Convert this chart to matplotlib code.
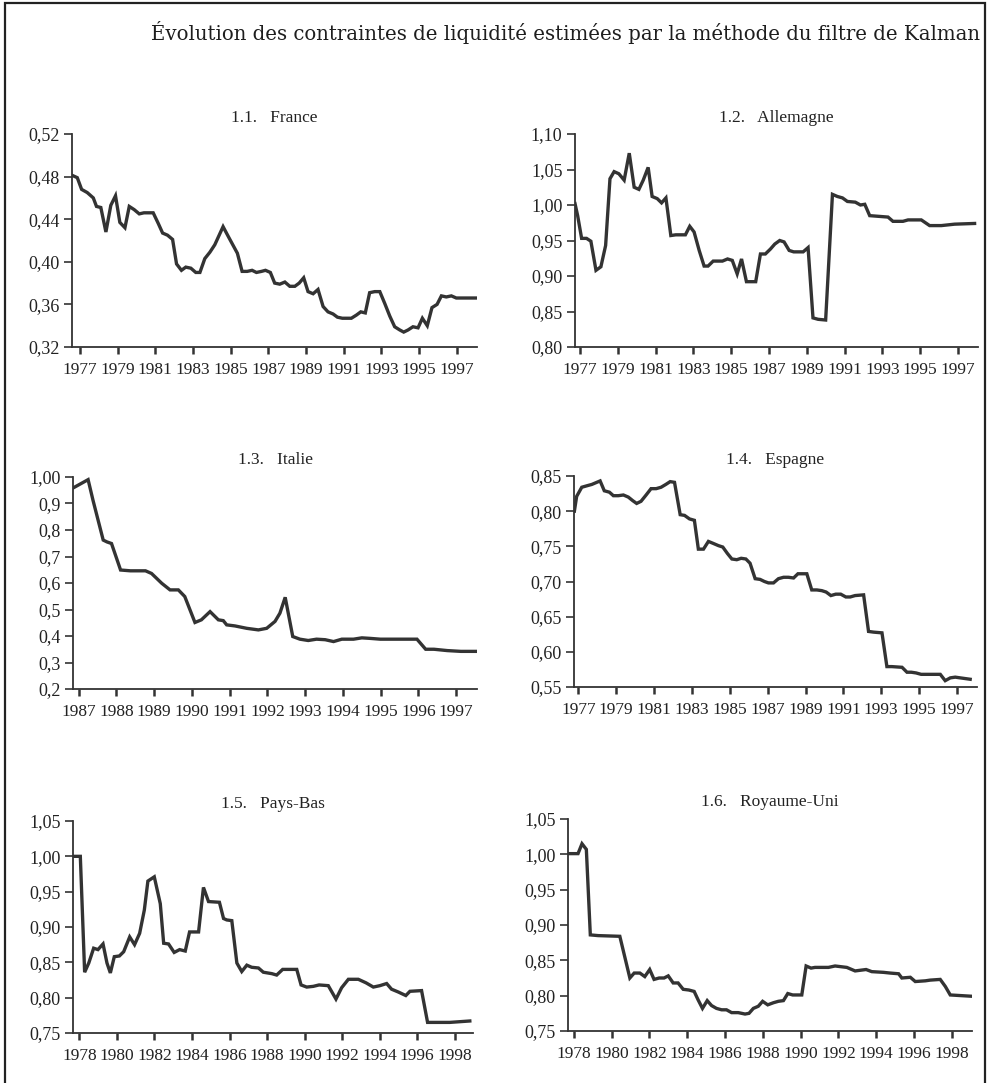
import matplotlib
matplotlib.use("Agg")
import matplotlib.pyplot as plt
from matplotlib.patches import Rectangle

# ── data ─────────────────────────────────────────────────────────────────────
fr_t = [1976.61, 1976.86, 1977.09, 1977.39, 1977.71, 1977.88, 1978.11, 1978.38, 1978.64, 1978.89,
        1979.12, 1979.39, 1979.62, 1979.88, 1980.15, 1980.40, 1980.89, 1981.16, 1981.39, 1981.65,
        1981.92, 1982.13, 1982.39, 1982.62, 1982.89, 1983.15, 1983.37, 1983.63, 1983.90, 1984.16,
        1984.60, 1984.87, 1985.36, 1985.61, 1985.88, 1986.14, 1986.37, 1986.64, 1986.85, 1987.11,
        1987.34, 1987.61, 1987.88, 1988.14, 1988.41, 1988.64, 1988.88, 1989.11, 1989.38, 1989.64,
        1989.91, 1990.17, 1990.44, 1990.67, 1990.93, 1991.41, 1991.68, 1991.91, 1992.15, 1992.38,
        1992.65, 1992.92, 1993.18, 1993.45, 1993.71, 1993.98, 1994.19, 1994.42, 1994.68, 1994.95,
        1995.18, 1995.44, 1995.69, 1995.96, 1996.19, 1996.45, 1996.72, 1996.98, 1997.25, 1998.00]
fr_v = [0.481, 0.479, 0.468, 0.465, 0.460, 0.452, 0.451, 0.428, 0.453, 0.462,
        0.437, 0.432, 0.452, 0.449, 0.445, 0.446, 0.446, 0.436, 0.427, 0.425,
        0.421, 0.398, 0.392, 0.395, 0.394, 0.390, 0.390, 0.403, 0.409, 0.416,
        0.433, 0.424, 0.408, 0.391, 0.391, 0.392, 0.390, 0.391, 0.392, 0.390,
        0.380, 0.379, 0.381, 0.377, 0.377, 0.380, 0.385, 0.372, 0.370, 0.374,
        0.358, 0.353, 0.351, 0.348, 0.347, 0.347, 0.350, 0.353, 0.352, 0.371,
        0.372, 0.372, 0.361, 0.349, 0.339, 0.336, 0.334, 0.336, 0.339, 0.338,
        0.347, 0.340, 0.357, 0.360, 0.368, 0.367, 0.368, 0.366, 0.366, 0.366]

de_t = [1976.74, 1976.88, 1977.09, 1977.35, 1977.58, 1977.85, 1978.11, 1978.36, 1978.59, 1978.81,
        1979.06, 1979.34, 1979.61, 1979.87, 1980.12, 1980.35, 1980.61, 1980.82, 1981.09, 1981.32,
        1981.55, 1981.81, 1982.07, 1982.34, 1982.58, 1982.81, 1983.04, 1983.31, 1983.57, 1983.78,
        1984.05, 1984.54, 1984.81, 1985.06, 1985.32, 1985.55, 1985.81, 1986.30, 1986.55, 1986.81,
        1987.08, 1987.31, 1987.57, 1987.80, 1988.07, 1988.31, 1988.81, 1989.07, 1989.33, 1989.60,
        1990.00, 1990.36, 1990.62, 1990.89, 1991.15, 1991.57, 1991.84, 1992.07, 1992.33, 1992.82,
        1993.30, 1993.56, 1994.09, 1994.36, 1995.06, 1995.50, 1996.12, 1996.82, 1997.88]
de_v = [1.002, 0.985, 0.953, 0.953, 0.949, 0.908, 0.913, 0.943, 1.037, 1.047,
        1.044, 1.035, 1.073, 1.025, 1.022, 1.035, 1.053, 1.012, 1.009, 1.003,
        1.010, 0.957, 0.958, 0.958, 0.958, 0.970, 0.962, 0.936, 0.914, 0.914,
        0.921, 0.921, 0.924, 0.922, 0.903, 0.924, 0.892, 0.892, 0.931, 0.931,
        0.938, 0.945, 0.950, 0.948, 0.936, 0.934, 0.934, 0.940, 0.841, 0.839,
        0.838, 1.015, 1.012, 1.010, 1.005, 1.004, 1.000, 1.001, 0.985, 0.984,
        0.983, 0.977, 0.977, 0.979, 0.979, 0.971, 0.971, 0.973, 0.974]

it_t = [1986.87, 1987.25, 1987.38, 1987.65, 1987.75, 1987.87, 1988.11, 1988.37, 1988.77, 1988.93,
        1989.20, 1989.42, 1989.64, 1989.81, 1990.08, 1990.25, 1990.48, 1990.70, 1990.83, 1990.92,
        1991.14, 1991.45, 1991.76, 1991.98, 1992.20, 1992.33, 1992.47, 1992.67, 1992.86, 1993.08,
        1993.30, 1993.53, 1993.75, 1993.97, 1994.28, 1994.50, 1994.72, 1994.99, 1995.52, 1995.96,
        1996.19, 1996.41, 1996.76, 1997.12, 1997.52]
it_v = [0.960, 0.990, 0.912, 0.762, 0.755, 0.749, 0.649, 0.646, 0.646, 0.636,
        0.599, 0.574, 0.574, 0.549, 0.451, 0.461, 0.492, 0.461, 0.458, 0.442,
        0.438, 0.429, 0.423, 0.429, 0.455, 0.486, 0.546, 0.398, 0.388, 0.383,
        0.388, 0.386, 0.379, 0.388, 0.388, 0.393, 0.391, 0.388, 0.388, 0.388,
        0.350, 0.350, 0.345, 0.342, 0.342]

es_t = [1976.79, 1976.91, 1977.18, 1977.44, 1977.71, 1978.15, 1978.37, 1978.64, 1978.85, 1979.11,
        1979.38, 1979.64, 1979.87, 1980.08, 1980.31, 1980.58, 1980.84, 1981.11, 1981.37, 1981.62,
        1981.85, 1982.08, 1982.38, 1982.61, 1982.87, 1983.13, 1983.34, 1983.61, 1983.87, 1984.14,
        1984.40, 1984.63, 1984.87, 1985.11, 1985.37, 1985.60, 1985.85, 1986.07, 1986.34, 1986.60,
        1986.83, 1987.04, 1987.31, 1987.57, 1987.84, 1988.10, 1988.37, 1988.60, 1989.07, 1989.33,
        1989.60, 1989.86, 1990.09, 1990.34, 1990.60, 1990.86, 1991.13, 1991.36, 1991.62, 1992.07,
        1992.33, 1992.60, 1993.04, 1993.30, 1993.56, 1994.10, 1994.36, 1994.59, 1994.84, 1995.11,
        1995.59, 1996.12, 1996.38, 1996.65, 1996.91, 1997.17, 1997.70]
es_v = [0.800, 0.821, 0.834, 0.836, 0.838, 0.843, 0.829, 0.827, 0.822, 0.822,
        0.823, 0.820, 0.815, 0.811, 0.814, 0.823, 0.832, 0.832, 0.834, 0.838,
        0.842, 0.841, 0.795, 0.794, 0.789, 0.787, 0.746, 0.746, 0.757, 0.754,
        0.751, 0.749, 0.740, 0.732, 0.731, 0.733, 0.732, 0.726, 0.704, 0.703,
        0.700, 0.698, 0.698, 0.704, 0.706, 0.706, 0.705, 0.711, 0.711, 0.688,
        0.688, 0.687, 0.685, 0.680, 0.682, 0.682, 0.678, 0.678, 0.680, 0.681,
        0.629, 0.628, 0.627, 0.579, 0.579, 0.578, 0.571, 0.571, 0.570, 0.568,
        0.568, 0.568, 0.559, 0.563, 0.564, 0.563, 0.561]

nl_t = [1977.73, 1978.05, 1978.28, 1978.50, 1978.76, 1978.99, 1979.26, 1979.47, 1979.65, 1979.86,
        1980.13, 1980.36, 1980.68, 1980.94, 1981.21, 1981.46, 1981.65, 1981.99, 1982.31, 1982.49,
        1982.75, 1983.05, 1983.34, 1983.64, 1983.87, 1984.35, 1984.61, 1984.88, 1985.46, 1985.68,
        1985.85, 1986.12, 1986.39, 1986.65, 1986.92, 1987.18, 1987.54, 1987.80, 1988.25, 1988.51,
        1988.83, 1989.58, 1989.81, 1990.11, 1990.46, 1990.77, 1991.26, 1991.67, 1991.97, 1992.33,
        1992.86, 1993.27, 1993.66, 1994.01, 1994.37, 1994.63, 1994.99, 1995.39, 1995.61, 1996.23,
        1996.55, 1997.73, 1998.80]
nl_v = [1.000, 1.000, 0.836, 0.849, 0.870, 0.868, 0.876, 0.849, 0.835, 0.858,
        0.859, 0.865, 0.886, 0.875, 0.891, 0.924, 0.965, 0.971, 0.933, 0.877,
        0.876, 0.864, 0.868, 0.866, 0.893, 0.893, 0.956, 0.936, 0.935, 0.912,
        0.910, 0.909, 0.849, 0.837, 0.846, 0.843, 0.842, 0.836, 0.834, 0.832,
        0.840, 0.840, 0.818, 0.815, 0.816, 0.818, 0.817, 0.798, 0.814, 0.826,
        0.826, 0.821, 0.815, 0.817, 0.820, 0.812, 0.808, 0.803, 0.809, 0.810,
        0.765, 0.765, 0.767]

uk_t = [1977.70, 1978.23, 1978.44, 1978.67, 1978.88, 1979.29, 1980.44, 1980.97, 1981.20, 1981.50,
        1981.76, 1982.02, 1982.25, 1982.52, 1982.78, 1983.00, 1983.26, 1983.52, 1983.79, 1984.09,
        1984.37, 1984.58, 1984.81, 1985.06, 1985.29, 1985.55, 1985.82, 1986.08, 1986.35, 1986.70,
        1987.06, 1987.27, 1987.50, 1987.76, 1987.99, 1988.26, 1988.56, 1988.82, 1989.09, 1989.32,
        1989.58, 1990.06, 1990.29, 1990.55, 1990.76, 1991.47, 1991.82, 1992.44, 1992.88, 1993.46,
        1993.76, 1994.38, 1994.73, 1995.18, 1995.35, 1995.80, 1996.06, 1996.59, 1996.85, 1997.38,
        1997.65, 1997.91, 1998.53, 1999.15]
uk_v = [1.001, 1.001, 1.015, 1.007, 0.886, 0.885, 0.884, 0.825, 0.832, 0.832,
        0.827, 0.837, 0.823, 0.825, 0.825, 0.828, 0.818, 0.818, 0.809, 0.808,
        0.806, 0.794, 0.782, 0.793, 0.786, 0.782, 0.780, 0.780, 0.776, 0.776,
        0.774, 0.775, 0.782, 0.785, 0.792, 0.787, 0.790, 0.792, 0.793, 0.803,
        0.801, 0.801, 0.842, 0.839, 0.840, 0.840, 0.842, 0.840, 0.835, 0.837,
        0.834, 0.833, 0.832, 0.831, 0.825, 0.826, 0.820, 0.821, 0.822, 0.823,
        0.813, 0.801, 0.800, 0.799]

titles = ["1.1.   France", "1.2.   Allemagne", "1.3.   Italie",
          "1.4.   Espagne", "1.5.   Pays-Bas", "1.6.   Royaume-Uni"]
x_ticks = [list(range(1977, 1998, 2)), list(range(1977, 1998, 2)), list(range(1987, 1998)),
           list(range(1977, 1998, 2)), list(range(1978, 1999, 2)), list(range(1978, 1999, 2))]
y_ticks = [[0.32, 0.36, 0.40, 0.44, 0.48, 0.52],
           [0.80, 0.85, 0.90, 0.95, 1.00, 1.05, 1.10],
           [0.2, 0.3, 0.4, 0.5, 0.6, 0.7, 0.8, 0.9, 1.0],
           [0.55, 0.60, 0.65, 0.70, 0.75, 0.80, 0.85],
           [0.75, 0.80, 0.85, 0.90, 0.95, 1.00, 1.05],
           [0.75, 0.80, 0.85, 0.90, 0.95, 1.00, 1.05]]
y_labels = [["0,32", "0,36", "0,40", "0,44", "0,48", "0,52"],
            ["0,80", "0,85", "0,90", "0,95", "1,00", "1,05", "1,10"],
            ["0,2", "0,3", "0,4", "0,5", "0,6", "0,7", "0,8", "0,9", "1,00"],
            ["0,55", "0,60", "0,65", "0,70", "0,75", "0,80", "0,85"],
            ["0,75", "0,80", "0,85", "0,90", "0,95", "1,00", "1,05"],
            ["0,75", "0,80", "0,85", "0,90", "0,95", "1,00", "1,05"]]
series = [(fr_t, fr_v), (de_t, de_v), (it_t, it_v), (es_t, es_v), (nl_t, nl_v), (uk_t, uk_v)]

# ── layout (pixel boxes measured on the 990x1083 scan) ────────────────────────
W, H = 990, 1083
boxes = [(72, 477, 134, 347), (575, 978, 134, 347),
         (73, 477, 477, 689), (574, 977, 476, 687),
         (73, 473, 821, 1033), (568, 972, 819, 1031)]
xlims = [(1976.58, 1998.08), (1976.74, 1998.06), (1986.85, 1997.55),
         (1976.77, 1998.06), (1977.66, 1998.97), (1977.70, 1999.06)]

INK = "#333333"
SERIF = ["Liberation Serif", "DejaVu Serif"]

fig = plt.figure(figsize=(W / 100, H / 100), dpi=100)
fig.patch.set_facecolor("white")

# outer frame
fig.patches.append(Rectangle((5 / W, -0.01), 980 / W, 1.01 - 3 / H, transform=fig.transFigure,
                             fill=False, edgecolor="#222222", linewidth=1.6))

fig.text(980 / W, 1 - 40 / H,
         "Évolution des contraintes de liquidité estimées par la méthode du filtre de Kalman",
         ha="right", va="baseline", fontsize=14.2, family="DejaVu Serif", color="#1e1e1e")

for i, (l, r, t, b) in enumerate(boxes):
    ax = fig.add_axes([l / W, 1 - b / H, (r - l) / W, (b - t) / H])
    xs, ys = series[i]
    ax.plot(xs, ys, color=INK, linewidth=2.4, solid_joinstyle="miter")
    ax.set_xlim(*xlims[i])
    ax.set_ylim(y_ticks[i][0], y_ticks[i][-1])
    ax.set_xticks(x_ticks[i])
    ax.set_xticklabels([str(v) for v in x_ticks[i]], family=SERIF, fontsize=12.5, color="#222222")
    ax.set_yticks(y_ticks[i])
    ax.set_yticklabels(y_labels[i], family=SERIF, fontsize=13, color="#222222")
    ax.spines["top"].set_visible(False)
    ax.spines["right"].set_visible(False)
    for s in ("left", "bottom"):
        ax.spines[s].set_linewidth(1.3)
        ax.spines[s].set_color("#333333")
    ax.tick_params(axis="x", direction="out", length=5, width=1.8, pad=6, color="#333333")
    ax.tick_params(axis="y", direction="out", length=6, width=1.2, pad=3, color="#333333")
    ax.set_title(titles[i], family=SERIF, fontsize=12.5, pad=9, color="#222222")

fig.savefig("out.png", dpi=100, facecolor="white")
